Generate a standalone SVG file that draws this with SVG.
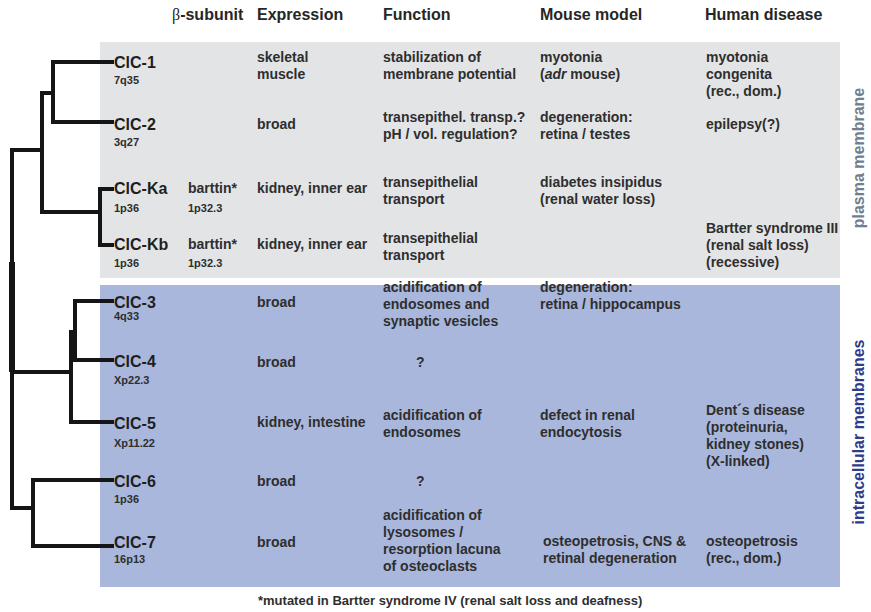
<svg xmlns="http://www.w3.org/2000/svg" width="871" height="612" viewBox="0 0 871 612">
<style>
text{font-family:"Liberation Sans",Arial,sans-serif;font-weight:bold;fill:#2e2e2e;}
.h{font-size:16px;fill:#262626;}
.n{font-size:16px;fill:#1e1e1e;}
.c{font-size:11px;}
.t{font-size:14px;}
.fn{font-size:13px;}
.tree{fill:none;stroke:#151515;stroke-width:4;stroke-linejoin:miter;stroke-linecap:butt;}
</style>
<rect width="871" height="612" fill="#ffffff"/>
<rect x="100" y="42" width="740" height="236" fill="#e3e4e6"/>
<rect x="100" y="285" width="740" height="302" fill="#a9b7dc"/>

<g id="headers" class="h">
<text class="h" x="172" y="20"><tspan font-family="'Liberation Serif',serif" font-weight="normal">β</tspan>-subunit</text>
<text class="h" x="257" y="20">Expression</text>
<text class="h" x="383" y="20">Function</text>
<text class="h" x="540" y="20">Mouse model</text>
<text class="h" x="705" y="20">Human disease</text>
</g>

<g id="connectors">
<path class="tree" d="M114,62 H53 V122 H114"/>
<path class="tree" d="M53,93 H42 V212 H100"/>
<path class="tree" d="M114,189 H100 V245 H114"/>
<path class="tree" d="M12,150 H42"/>
<path class="tree" d="M12,148 V510"/>
<rect x="9" y="262" width="6" height="110" fill="#151515"/>
<path class="tree" d="M12,372 H71"/>
<path class="tree" d="M71,330 V422 H114"/>
<path class="tree" d="M114,301 H75 V360 H114"/>
<rect x="70" y="330" width="6" height="30" fill="#151515"/>
<path class="tree" d="M12,508 H33"/>
<path class="tree" d="M114,480 H33 V546 H114"/>
</g>

<g id="clc1">
<text class="n" x="114" y="68">ClC-1</text>
<text class="c" x="114" y="84">7q35</text>
<text class="t" x="257" y="62">skeletal</text>
<text class="t" x="257" y="79">muscle</text>
<text class="t" x="383" y="62">stabilization of</text>
<text class="t" x="383" y="79">membrane potential</text>
<text class="t" x="540" y="62">myotonia</text>
<text class="t" x="540" y="79">(<tspan font-style="italic">adr</tspan> mouse)</text>
<text class="t" x="706" y="62">myotonia</text>
<text class="t" x="706" y="79">congenita</text>
<text class="t" x="706" y="96">(rec., dom.)</text>
</g>

<g id="clc2">
<text class="n" x="114" y="130">ClC-2</text>
<text class="c" x="114" y="146">3q27</text>
<text class="t" x="257" y="129">broad</text>
<text class="t" x="383" y="122">transepithel. transp.?</text>
<text class="t" x="383" y="139">pH / vol. regulation?</text>
<text class="t" x="540" y="122">degeneration:</text>
<text class="t" x="540" y="139">retina / testes</text>
<text class="t" x="706" y="129">epilepsy(?)</text>
</g>

<g id="clcka">
<text class="n" x="114" y="194">ClC-Ka</text>
<text class="c" x="114" y="212">1p36</text>
<text class="t" x="188" y="193">barttin*</text>
<text class="c" x="188" y="212">1p32.3</text>
<text class="t" x="257" y="193">kidney, inner ear</text>
<text class="t" x="383" y="187">transepithelial</text>
<text class="t" x="383" y="204">transport</text>
<text class="t" x="540" y="187">diabetes insipidus</text>
<text class="t" x="540" y="204">(renal water loss)</text>
</g>

<g id="clckb">
<text class="n" x="114" y="250">ClC-Kb</text>
<text class="c" x="114" y="267">1p36</text>
<text class="t" x="188" y="249">barttin*</text>
<text class="c" x="188" y="267">1p32.3</text>
<text class="t" x="257" y="249">kidney, inner ear</text>
<text class="t" x="383" y="243">transepithelial</text>
<text class="t" x="383" y="260">transport</text>
<text class="t" x="706" y="233">Bartter syndrome III</text>
<text class="t" x="706" y="250">(renal salt loss)</text>
<text class="t" x="706" y="267">(recessive)</text>
</g>

<g id="clc3">
<text class="n" x="114" y="308">ClC-3</text>
<text class="c" x="114" y="320">4q33</text>
<text class="t" x="257" y="307">broad</text>
<text class="t" x="383" y="292">acidification of</text>
<text class="t" x="383" y="309">endosomes and</text>
<text class="t" x="383" y="326">synaptic vesicles</text>
<text class="t" x="540" y="292">degeneration:</text>
<text class="t" x="540" y="309">retina / hippocampus</text>
</g>

<g id="clc4">
<text class="n" x="114" y="367">ClC-4</text>
<text class="c" x="114" y="384">Xp22.3</text>
<text class="t" x="257" y="367">broad</text>
<text class="t" x="416" y="367">?</text>
</g>

<g id="clc5">
<text class="n" x="114" y="429">ClC-5</text>
<text class="c" x="114" y="447">Xp11.22</text>
<text class="t" x="257" y="427">kidney, intestine</text>
<text class="t" x="383" y="420">acidification of</text>
<text class="t" x="383" y="437">endosomes</text>
<text class="t" x="540" y="420">defect in renal</text>
<text class="t" x="540" y="437">endocytosis</text>
<text class="t" x="706" y="415">Dent´s disease</text>
<text class="t" x="706" y="432">(proteinuria,</text>
<text class="t" x="706" y="449">kidney stones)</text>
<text class="t" x="706" y="466">(X-linked)</text>
</g>

<g id="clc6">
<text class="n" x="114" y="487">ClC-6</text>
<text class="c" x="114" y="503">1p36</text>
<text class="t" x="257" y="486">broad</text>
<text class="t" x="416" y="486">?</text>
</g>

<g id="clc7">
<text class="n" x="114" y="548">ClC-7</text>
<text class="c" x="114" y="563">16p13</text>
<text class="t" x="257" y="547">broad</text>
<text class="t" x="383" y="520">acidification of</text>
<text class="t" x="383" y="537">lysosomes /</text>
<text class="t" x="383" y="554">resorption lacuna</text>
<text class="t" x="383" y="571">of osteoclasts</text>
<text class="t" x="543" y="546">osteopetrosis, CNS &amp;</text>
<text class="t" x="543" y="563">retinal degeneration</text>
<text class="t" x="706" y="546">osteopetrosis</text>
<text class="t" x="706" y="563">(rec., dom.)</text>
</g>

<g id="side-labels">
<text x="864" y="158" font-size="16" text-anchor="middle" transform="rotate(-90 864 158)" style="fill:#6e8090">plasma membrane</text>
<text x="864" y="432" font-size="16" text-anchor="middle" transform="rotate(-90 864 432)" style="fill:#2e3c8e">intracellular membranes</text>
</g>

<g id="footnote">
<text class="fn" x="258" y="605">*mutated in Bartter syndrome IV (renal salt loss and deafness)</text>
</g>
</svg>
